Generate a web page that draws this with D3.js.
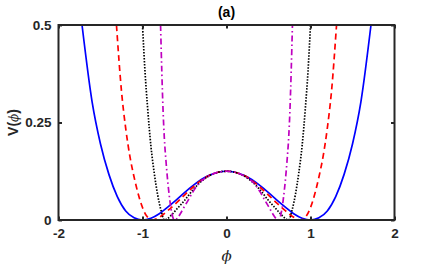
<!DOCTYPE html>
<html lang="en">
<head>
<meta charset="UTF-8">
<script src="https://d3js.org/d3.v7.min.js"></script>
<title>V(phi)</title>
<style>
    body { margin: 0; background: #fff; }
    svg { display: block; font-family: "Liberation Sans", Arial, sans-serif; }
    .tick-label { font-size: 13.5px; font-weight: bold; fill: #262626; }
</style>
</head>
<body>
<div id="chart"></div>
<script>
    // Data
    var xTicks = [-2, -1, 0, 1, 2];
    var xTickLabels = ["-2", "-1", "0", "1", "2"];
    var yTicks = [0, 0.25, 0.5];
    var yTickLabels = ["0", "0.25", "0.5"];

    var phiBlue = [-1.72, -1.6, -1.5, -1.4, -1.3, -1.2, -1.1, -1.0, -0.9, -0.8, -0.7, -0.6, -0.5, -0.4, -0.3, -0.2, -0.1, 0,
                   0.1, 0.2, 0.3, 0.4, 0.5, 0.6, 0.7, 0.8, 0.9, 1.0, 1.1, 1.2, 1.3, 1.4, 1.5, 1.6, 1.72];
    var vBlue = [0.5, 0.303, 0.195, 0.117, 0.060, 0.023, 0.0055, 0, 0.0045, 0.016, 0.033, 0.051, 0.070, 0.088, 0.104, 0.115, 0.1225, 0.125,
                 0.1225, 0.115, 0.104, 0.088, 0.070, 0.051, 0.033, 0.016, 0.0045, 0, 0.0055, 0.023, 0.060, 0.117, 0.195, 0.303, 0.5];

    var phiRed = [-1.31, -1.25, -1.2, -1.15, -1.1, -1.05, -1.0, -0.95, -0.88, -0.8, -0.7, -0.6, -0.5, -0.4, -0.3, -0.2, -0.1, 0,
                  0.1, 0.2, 0.3, 0.4, 0.5, 0.6, 0.7, 0.8, 0.88, 0.95, 1.0, 1.05, 1.1, 1.15, 1.2, 1.25, 1.31];
    var vRed = [0.5, 0.33, 0.235, 0.163, 0.11, 0.066, 0.032, 0.01, 0, 0.007, 0.024, 0.043, 0.064, 0.084, 0.102, 0.115, 0.1225, 0.125,
                0.1225, 0.115, 0.102, 0.084, 0.064, 0.043, 0.024, 0.007, 0, 0.01, 0.032, 0.066, 0.11, 0.163, 0.235, 0.33, 0.5];

    var phiBlack = [-1.0, -0.97, -0.94, -0.9, -0.86, -0.82, -0.78, -0.74, -0.7, -0.65, -0.6, -0.5, -0.4, -0.3, -0.2, -0.1, 0,
                    0.1, 0.2, 0.3, 0.4, 0.5, 0.6, 0.65, 0.7, 0.74, 0.78, 0.82, 0.86, 0.9, 0.94, 0.97, 1.0];
    var vBlack = [0.5, 0.38, 0.29, 0.19, 0.12, 0.065, 0.025, 0, 0.004, 0.014, 0.026, 0.05, 0.077, 0.099, 0.114, 0.1225, 0.125,
                  0.1225, 0.114, 0.099, 0.077, 0.05, 0.026, 0.014, 0.004, 0, 0.025, 0.065, 0.12, 0.19, 0.29, 0.38, 0.5];

    var phiMagenta = [-0.785, -0.77, -0.755, -0.74, -0.72, -0.7, -0.68, -0.66, -0.62, -0.58, -0.55, -0.5, -0.45, -0.4, -0.35, -0.3, -0.2, -0.1, 0,
                      0.1, 0.2, 0.3, 0.35, 0.4, 0.45, 0.5, 0.55, 0.58, 0.62, 0.66, 0.68, 0.7, 0.72, 0.74, 0.755, 0.77, 0.785];
    var vMagenta = [0.5, 0.38, 0.28, 0.21, 0.15, 0.1, 0.06, 0.028, 0, 0.006, 0.016, 0.035, 0.053, 0.072, 0.088, 0.1, 0.114, 0.1225, 0.125,
                    0.1225, 0.114, 0.1, 0.088, 0.072, 0.053, 0.035, 0.016, 0.006, 0, 0.028, 0.06, 0.1, 0.15, 0.21, 0.28, 0.38, 0.5];

    var series = [
        { phi: phiBlue, v: vBlue, color: "#0000ff", dash: null },
        { phi: phiRed, v: vRed, color: "#ff0000", dash: "6,4" },
        { phi: phiBlack, v: vBlack, color: "#000000", dash: "1.5,1.5" },
        { phi: phiMagenta, v: vMagenta, color: "#bf00bf", dash: "6,3,1.5,3" }
    ];

    var width = 436, height = 267;
    var plotLeft = 58.5, plotRight = 394.5, plotTop = 25, plotBottom = 220;
    var axisColor = "#262626";

    var svg = d3.select("#chart")
        .append("svg")
        .attr("width", width)
        .attr("height", height);

    var x = d3.scaleLinear().domain([-2, 2]).range([plotLeft, plotRight]);
    var y = d3.scaleLinear().domain([0, 0.5]).range([plotBottom, plotTop]);

    svg.append("clipPath").attr("id", "plot-clip")
        .append("rect")
        .attr("x", plotLeft).attr("y", plotTop)
        .attr("width", plotRight - plotLeft).attr("height", plotBottom - plotTop);

    // curves
    var line = d3.line()
        .x(function (d) { return x(d[0]); })
        .y(function (d) { return y(d[1]); })
        .curve(d3.curveMonotoneX);

    svg.append("g")
        .attr("clip-path", "url(#plot-clip)")
        .selectAll("path")
        .data(series)
        .enter().append("path")
        .attr("d", function (s) { return line(d3.zip(s.phi, s.v)); })
        .attr("fill", "none")
        .attr("stroke", function (s) { return s.color; })
        .attr("stroke-width", 1.7)
        .attr("stroke-dasharray", function (s) { return s.dash; });

    // axes, ticks pointing inward, box on
    var tickLen = 3.5;
    var xAxisB = d3.axisBottom(x).tickValues(xTicks).tickSize(-tickLen).tickPadding(8)
        .tickFormat(function (d, i) { return xTickLabels[i]; });
    var xAxisT = d3.axisTop(x).tickValues(xTicks).tickSize(-tickLen).tickFormat("");
    var yAxisL = d3.axisLeft(y).tickValues(yTicks).tickSize(-tickLen).tickPadding(7)
        .tickFormat(function (d, i) { return yTickLabels[i]; });
    var yAxisR = d3.axisRight(y).tickValues(yTicks).tickSize(-tickLen).tickFormat("");

    function styleAxis(g) {
        g.select(".domain").remove();
        g.selectAll(".tick line").attr("stroke", axisColor).attr("stroke-width", 2);
        g.selectAll(".tick text").attr("class", "tick-label");
    }

    svg.append("g").attr("transform", "translate(0," + plotBottom + ")").call(xAxisB).call(styleAxis);
    svg.append("g").attr("transform", "translate(0," + plotTop + ")").call(xAxisT).call(styleAxis);
    svg.append("g").attr("transform", "translate(" + plotLeft + ",0)").call(yAxisL).call(styleAxis);
    svg.append("g").attr("transform", "translate(" + plotRight + ",0)").call(yAxisR).call(styleAxis);

    svg.append("rect")
        .attr("x", plotLeft).attr("y", plotTop)
        .attr("width", plotRight - plotLeft).attr("height", plotBottom - plotTop)
        .attr("fill", "none")
        .attr("stroke", axisColor)
        .attr("stroke-width", 2);

    // title and axis labels
    svg.append("text")
        .attr("x", (plotLeft + plotRight) / 2)
        .attr("y", 17)
        .attr("text-anchor", "middle")
        .attr("font-size", 14)
        .attr("font-weight", "bold")
        .attr("fill", "#000")
        .text("(a)");

    svg.append("text")
        .attr("x", (plotLeft + plotRight) / 2)
        .attr("y", 261)
        .attr("text-anchor", "middle")
        .attr("font-size", 15)
        .attr("font-style", "italic")
        .attr("font-family", "'DejaVu Serif', serif")
        .attr("fill", axisColor)
        .text("ϕ");

    var ylab = svg.append("text")
        .attr("transform", "translate(18," + ((plotTop + plotBottom) / 2) + ") rotate(-90)")
        .attr("text-anchor", "middle")
        .attr("font-size", 14)
        .attr("font-weight", "bold")
        .attr("fill", axisColor);
    ylab.append("tspan").text("V(");
    ylab.append("tspan").attr("font-style", "italic").attr("font-weight", "normal")
        .attr("font-family", "'DejaVu Serif', serif").attr("font-size", 12).text("ϕ");
    ylab.append("tspan").text(")");
</script>
</body>
</html>
